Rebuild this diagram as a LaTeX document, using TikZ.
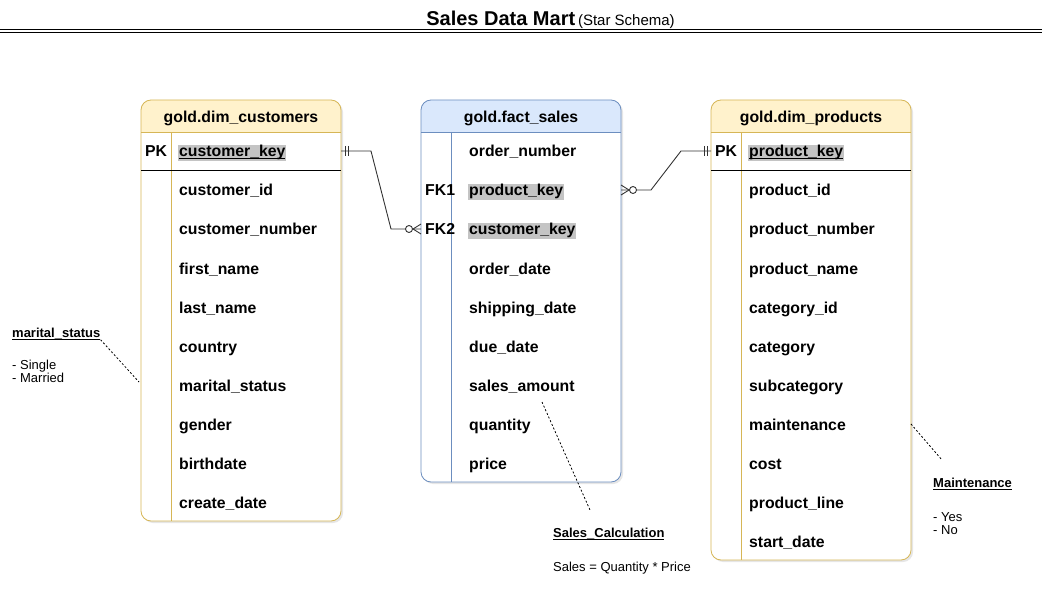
\documentclass[tikz,border=0pt]{standalone}
\usepackage{fontspec}
\setmainfont{Liberation Sans}
\usetikzlibrary{positioning}
\usetikzlibrary{shadows}
\definecolor{dimline}{HTML}{D6B656}
\definecolor{dimfill}{HTML}{FFF2CC}
\definecolor{factline}{HTML}{6C8EBF}
\definecolor{factfill}{HTML}{DAE8FC}
\definecolor{keygray}{HTML}{C4C4C4}
\tikzset{tblframe/.style = {draw, rounded corners=10, line width=0.8pt, outer sep=0,
                            anchor=north west, minimum width=200}}
\tikzset{hdr/.style = {text height=14.5pt, text depth=0.5pt, font=\fontsize{15.8}{18}\selectfont\bfseries}}
\tikzset{field/.style = {anchor=west, inner sep=1pt, text height=13.5pt, text depth=1.5pt,
                         font=\fontsize{15.8}{18}\selectfont\bfseries}}
\tikzset{note/.style = {anchor=west, inner sep=0, align=left, font=\fontsize{13}{13}\selectfont}}
\tikzset{notehead/.style = {note, font=\fontsize{13}{15}\selectfont\bfseries}}
\tikzset{hint/.style = {line width=0.8pt, dash pattern=on 2pt off 2pt}}
\tikzset{link/.style = {line width=0.9pt, black!80}}
\tikzset{erone/.pic = {\draw[link] (4,-5) -- (4,5) (7,-5) -- (7,5);}}
\tikzset{ermany/.pic = {\draw[link] (-8,0) -- (0,-5) (-8,0) -- (0,5);
                        \draw[link, fill=white] (-12,0) circle [radius=3.5];}}
\newcommand{\keyline}[1]{\setbox0\hbox{#1}\rlap{\rule[-1.5pt]{\wd0}{0.9pt}}\box0}
\newcommand{\keybox}[1]{\kern-1pt{\fboxsep=1pt\colorbox{keygray}{#1}}}
% #1 left x, #2 bottom y, #3 line colour, #4 header fill, #5 title, #6 name
\newcommand{\ertable}[6]{%
  \path[fill=white, rounded corners=10,
        drop shadow={opacity=0.2, shadow xshift=2pt, shadow yshift=-2pt}] (#1,100) rectangle (#1+200,#2);
  \fill[#4, rounded corners=10] (#1,132) |- (#1+200,100) -- (#1+200,132);
  \draw[#3, line width=0.8pt] (#1,132) -- (#1+200,132) (#1+30,132) -- (#1+30,#2);
  \node[tblframe, draw=#3, minimum height=#2-100] (#6) at (#1,100) {};
  \node[hdr] (#6-title) at (#1+100,116) {#5};}

\begin{document}
\begin{tikzpicture}[x=1pt, y=-1pt]
  \useasboundingbox (0,0) rectangle (1052,604);

  \node (title) at (550.5,19.5) {{\fontsize{20}{24}\selectfont\bfseries Sales Data Mart}
    {\fontsize{15}{18}\selectfont(Star Schema)}};
  \draw[line width=1pt] (0,30) -- (1042,30) (0,33) -- (1042,33);

  \ertable{141}{521}{dimline}{dimfill}{gold.dim\_customers}{cust}
  \ertable{421}{482}{factline}{factfill}{gold.fact\_sales}{fact}
  \ertable{711}{560}{dimline}{dimfill}{gold.dim\_products}{prod}
  \draw[line width=0.8pt] (141,170) -- (341,170) (711,170) -- (911,170);

  \foreach \f [count=\i] in {\keybox{\keyline{customer\_key}}, customer\_id, customer\_number,
      first\_name, last\_name, country, marital\_status, gender, birthdate, create\_date}
    \node[field] (cust-\i) at (178,{151+39*(\i-1)}) {\f};
  \foreach \f [count=\i] in {order\_number, \keybox{product\_key}, \keybox{customer\_key},
      order\_date, shipping\_date, due\_date, sales\_amount, quantity, price}
    \node[field] (fact-\i) at (468,{151+39*(\i-1)}) {\f};
  \foreach \f [count=\i] in {\keybox{\keyline{product\_key}}, product\_id, product\_number,
      product\_name, category\_id, category, subcategory, maintenance, cost, product\_line, start\_date}
    \node[field] (prod-\i) at (748,{151+39*(\i-1)}) {\f};

  \node[field] (cust-pk) at (144,151) {PK};
  \node[field] (fact-fk1) at (424,190) {FK1};
  \node[field] (fact-fk2) at (424,229) {FK2};
  \node[field] (prod-pk) at (714,151) {PK};

  % relations
  \coordinate (rel1a) at (cust.east |- cust-1);
  \coordinate (rel1b) at (fact.west |- fact-3);
  \draw[link] (rel1a) -- ++(30,0) -- ([xshift=-30pt]rel1b) -- (rel1b);
  \pic at (rel1a) {erone};
  \pic at (rel1b) {ermany};
  \coordinate (rel2a) at (fact.east |- fact-2);
  \coordinate (rel2b) at (prod.west |- prod-1);
  \draw[link] (rel2a) -- ++(30,0) -- ([xshift=-30pt]rel2b) -- (rel2b);
  \pic[xscale=-1] at (rel2a) {ermany};
  \pic[xscale=-1] at (rel2b) {erone};

  % notes
  \node[notehead] (ms-head) at (12,334) {\keyline{marital\_status}};
  \node[note] (ms-vals) at (12,371) {- Single\\- Married};
  \coordinate (ms-end) at (139,382);
  \draw[hint] (ms-head.south east) -- (ms-end);

  \node[notehead] (sc-head) at (553,534) {\keyline{Sales\_Calculation}};
  \node[note] (sc-vals) at (553,568) {Sales = Quantity * Price};
  \coordinate (sc-start) at (542,402);
  \coordinate (sc-end) at (590,510);
  \draw[hint] (sc-start) -- (sc-end);

  \node[notehead] (mt-head) at (933,484) {\keyline{Maintenance}};
  \node[note] (mt-vals) at (933,524) {- Yes\\- No};
  \coordinate (mt-end) at (942,460);
  \draw[hint] (prod.east |- prod-8) -- (mt-end);
\end{tikzpicture}
\end{document}
